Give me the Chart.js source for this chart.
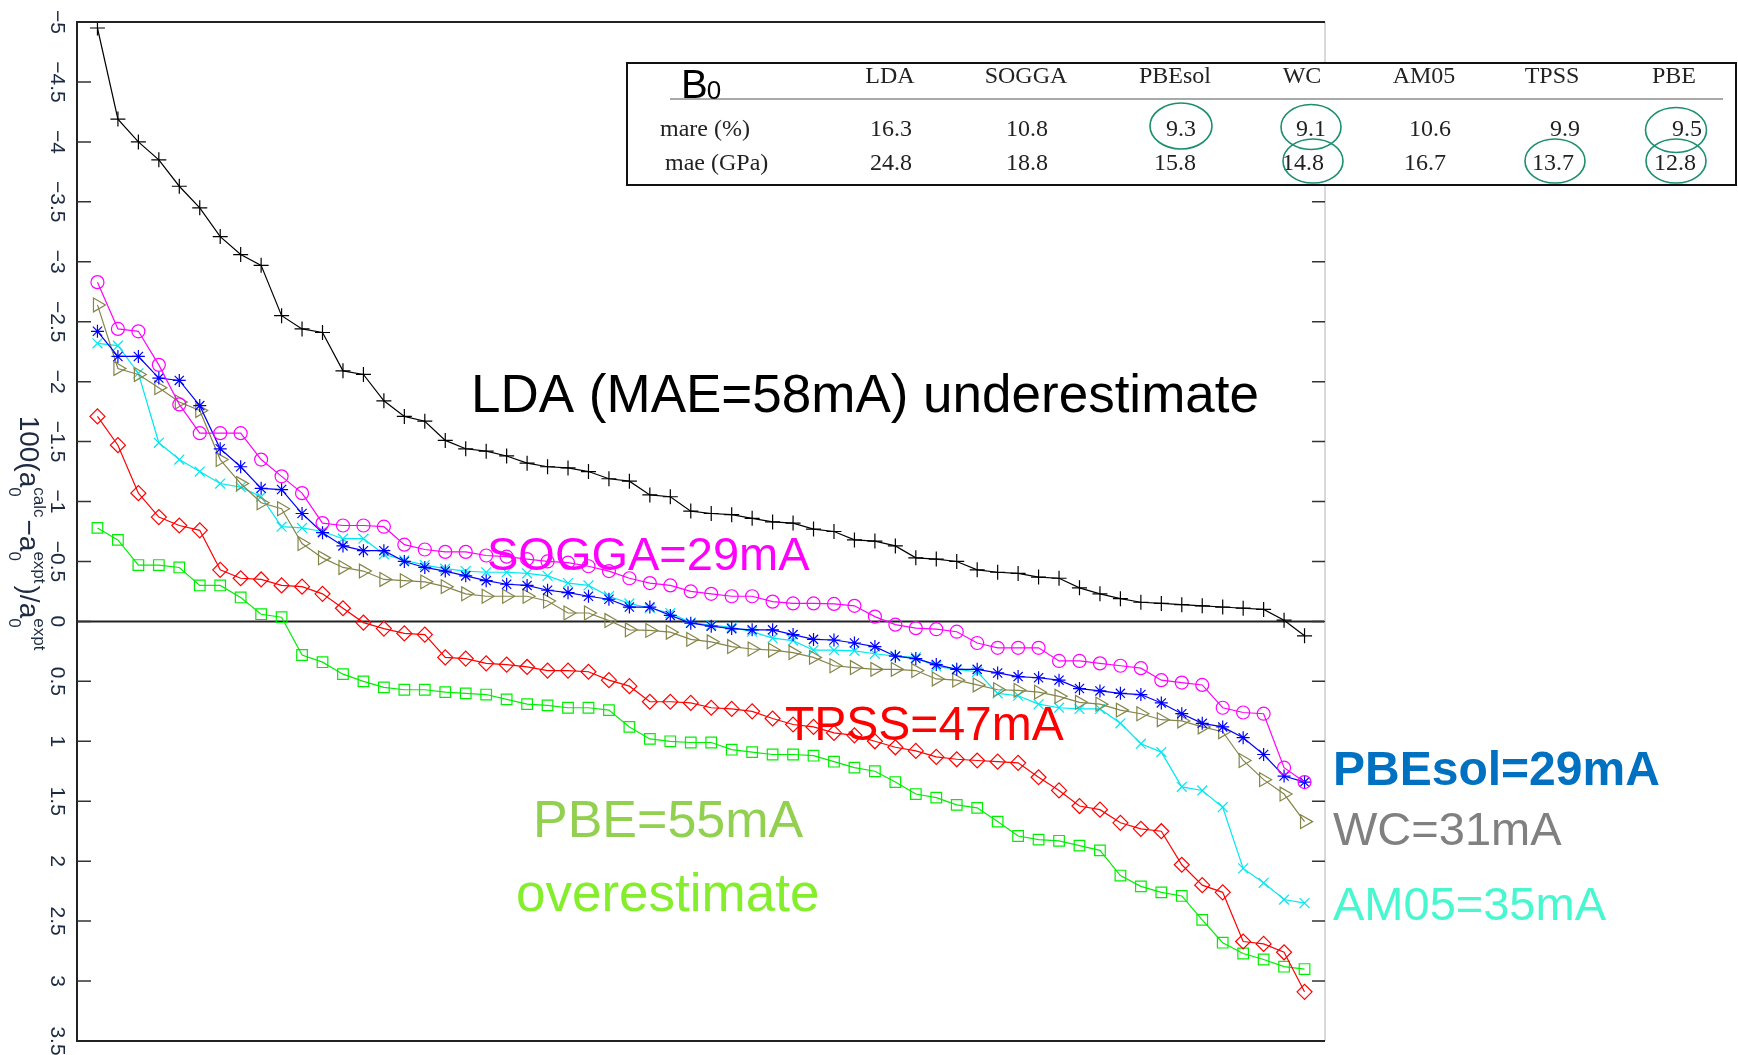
<!DOCTYPE html>
<html>
<head>
<meta charset="utf-8">
<script src="https://cdn.jsdelivr.net/npm/chart.js@4.4.1/dist/chart.umd.min.js"></script>
<style>
  html, body { margin: 0; padding: 0; background: #fff; }
  #wrap { width: 1738px; height: 1055px; position: relative; }
</style>
</head>
<body>
<div id="wrap"><canvas id="chart" width="1738" height="1055"></canvas></div>
<script>
// 60 solids, sorted by LDA error (x is just the solid index)
const solidIndex = Array.from({ length: 60 }, (_, i) => i);

// 100(a0calc - a0expt)/a0expt per functional
const lda = [-4.95, -4.19, -4.00, -3.85, -3.63, -3.45, -3.21, -3.06, -2.97, -2.55,
  -2.44, -2.41, -2.09, -2.06, -1.84, -1.71, -1.67, -1.51, -1.44, -1.42,
  -1.38, -1.32, -1.29, -1.28, -1.25, -1.19, -1.17, -1.055, -1.04, -0.92,
  -0.90, -0.89, -0.86, -0.83, -0.82, -0.77, -0.75, -0.68, -0.67, -0.63,
  -0.53, -0.52, -0.50, -0.43, -0.41, -0.40, -0.37, -0.36, -0.28, -0.23,
  -0.19, -0.16, -0.15, -0.14, -0.13, -0.12, -0.11, -0.10, -0.01, 0.12];
const sogga = [-2.83, -2.44, -2.42, -2.14, -1.81, -1.57, -1.57, -1.57, -1.35, -1.21,
  -1.07, -0.82, -0.80, -0.80, -0.79, -0.64, -0.60, -0.58, -0.58, -0.55,
  -0.54, -0.52, -0.50, -0.49, -0.46, -0.42, -0.36, -0.32, -0.30, -0.25,
  -0.23, -0.21, -0.21, -0.165, -0.15, -0.15, -0.146, -0.13, -0.04, 0.027,
  0.056, 0.065, 0.086, 0.18, 0.22, 0.22, 0.22, 0.33, 0.33, 0.35,
  0.37, 0.39, 0.49, 0.51, 0.53, 0.72, 0.76, 0.77, 1.22, 1.34];
const pbesol = [-2.42, -2.21, -2.21, -2.03, -2.01, -1.80, -1.44, -1.29, -1.11, -1.10,
  -0.90, -0.74, -0.63, -0.59, -0.59, -0.50, -0.45, -0.42, -0.38, -0.34,
  -0.31, -0.30, -0.26, -0.24, -0.21, -0.185, -0.12, -0.12, -0.05, 0.015,
  0.04, 0.06, 0.07, 0.07, 0.11, 0.15, 0.155, 0.18, 0.21, 0.29,
  0.31, 0.36, 0.40, 0.40, 0.43, 0.46, 0.47, 0.49, 0.56, 0.58,
  0.60, 0.61, 0.68, 0.77, 0.85, 0.88, 0.97, 1.11, 1.29, 1.34];
const wc = [-2.64, -2.11, -2.06, -1.95, -1.83, -1.76, -1.35, -1.15, -0.99, -0.94,
  -0.65, -0.53, -0.45, -0.42, -0.35, -0.34, -0.33, -0.29, -0.23, -0.21,
  -0.21, -0.21, -0.17, -0.07, -0.07, -0.007, 0.07, 0.075, 0.09, 0.15,
  0.17, 0.21, 0.23, 0.24, 0.26, 0.30, 0.37, 0.385, 0.40, 0.40,
  0.41, 0.48, 0.49, 0.53, 0.57, 0.575, 0.59, 0.625, 0.675, 0.69,
  0.74, 0.77, 0.82, 0.83, 0.88, 0.92, 1.16, 1.32, 1.44, 1.67];
const am05 = [-2.32, -2.30, -2.07, -1.49, -1.35, -1.25, -1.15, -1.12, -1.04, -0.79,
  -0.78, -0.75, -0.69, -0.69, -0.56, -0.51, -0.47, -0.44, -0.42, -0.41,
  -0.41, -0.40, -0.38, -0.32, -0.30, -0.21, -0.15, -0.11, -0.07, 0.01,
  0.03, 0.05, 0.085, 0.14, 0.16, 0.24, 0.24, 0.245, 0.27, 0.29,
  0.30, 0.375, 0.40, 0.42, 0.60, 0.62, 0.69, 0.72, 0.73, 0.73,
  0.85, 1.02, 1.09, 1.38, 1.41, 1.55, 2.06, 2.18, 2.32, 2.35];
const tpss = [-1.71, -1.47, -1.07, -0.87, -0.80, -0.76, -0.43, -0.36, -0.35, -0.30,
  -0.29, -0.23, -0.11, 0.01, 0.06, 0.10, 0.11, 0.30, 0.31, 0.35,
  0.36, 0.38, 0.41, 0.41, 0.42, 0.49, 0.54, 0.67, 0.67, 0.68,
  0.72, 0.73, 0.75, 0.81, 0.86, 0.88, 0.93, 0.95, 1.00, 1.05,
  1.08, 1.13, 1.15, 1.16, 1.17, 1.18, 1.30, 1.41, 1.54, 1.57,
  1.68, 1.73, 1.75, 2.03, 2.20, 2.26, 2.67, 2.69, 2.76, 3.09];
const pbe = [-0.78, -0.68, -0.47, -0.47, -0.45, -0.30, -0.30, -0.20, -0.06, -0.035,
  0.28, 0.34, 0.44, 0.50, 0.55, 0.57, 0.57, 0.59, 0.60, 0.61,
  0.65, 0.69, 0.70, 0.72, 0.72, 0.74, 0.88, 0.98, 1.00, 1.01,
  1.01, 1.07, 1.09, 1.11, 1.11, 1.12, 1.17, 1.22, 1.25, 1.34,
  1.44, 1.47, 1.53, 1.555, 1.67, 1.79, 1.82, 1.83, 1.87, 1.91,
  2.12, 2.21, 2.26, 2.29, 2.49, 2.68, 2.77, 2.82, 2.88, 2.90];

// y axis ticks
const yTicks = [-5, -4.5, -4, -3.5, -3, -2.5, -2, -1.5, -1, -0.5, 0, 0.5, 1, 1.5, 2, 2.5, 3, 3.5];
const yTickLabels = ['\u22125', '\u22124.5', '\u22124', '\u22123.5', '\u22123', '\u22122.5', '\u22122', '\u22121.5', '\u22121',
  '\u22120.5', '0', '0.5', '1', '1.5', '2', '2.5', '3', '3.5'];

// bulk modulus table
const tableFunctionals = ['LDA', 'SOGGA', 'PBEsol', 'WC', 'AM05', 'TPSS', 'PBE'];
const mareB0 = ['16.3', '10.8', '9.3', '9.1', '10.6', '9.9', '9.5'];
const maeB0 = ['24.8', '18.8', '15.8', '14.8', '16.7', '13.7', '12.8'];

const SANS = '"Liberation Sans", Arial, sans-serif';
const SERIF = '"Liberation Serif", "Times New Roman", serif';

function series(values) {
  return values.map((v, i) => ({ x: solidIndex[i], y: v }));
}

function makeSet(label, values, color, style, radius, rotation) {
  return {
    label: label,
    data: series(values),
    borderColor: color,
    borderWidth: 1.2,
    pointStyle: style,
    pointRadius: radius,
    pointRotation: rotation || 0,
    pointBorderColor: color,
    pointBackgroundColor: 'rgba(0,0,0,0)',
    pointBorderWidth: 1.2,
    tension: 0
  };
}

// draws text made of main / sub / sup pieces along the current baseline
function drawMath(ctx, groups) {
  const main = '28px ' + SANS, small = '17px ' + SANS;
  let total = 0;
  groups.forEach(g => {
    if (g.t) { ctx.font = main; g.w = ctx.measureText(g.t).width; }
    else {
      ctx.font = small;
      g.w = Math.max(ctx.measureText(g.sub).width, ctx.measureText(g.sup).width) + 2;
    }
    total += g.w;
  });
  let x = -total / 2;
  ctx.textAlign = 'left';
  ctx.textBaseline = 'alphabetic';
  groups.forEach(g => {
    if (g.t) { ctx.font = main; ctx.fillText(g.t, x, 0); }
    else {
      ctx.font = small;
      ctx.fillText(g.sub, x, 11);
      ctx.fillText(g.sup, x, -14);
    }
    x += g.w;
  });
}

const framePlugin = {
  id: 'frame',
  beforeDatasetsDraw(chart) {
    const { ctx, chartArea: a, scales: { y } } = chart;
    const y0 = y.getPixelForValue(0);
    ctx.save();
    ctx.strokeStyle = '#222';
    ctx.lineWidth = 2;
    ctx.beginPath();
    ctx.moveTo(a.left, y0);
    ctx.lineTo(a.right, y0);
    ctx.stroke();
    ctx.restore();
  },
  afterDatasetsDraw(chart) {
    const { ctx, chartArea: a, scales: { y } } = chart;
    ctx.save();
    // right border is light grey, others dark
    ctx.lineWidth = 2;
    ctx.strokeStyle = '#d9d9d9';
    ctx.beginPath();
    ctx.moveTo(a.right, a.top);
    ctx.lineTo(a.right, a.bottom);
    ctx.stroke();
    ctx.strokeStyle = '#222';
    ctx.beginPath();
    ctx.moveTo(a.right, a.top);
    ctx.lineTo(a.left, a.top);
    ctx.lineTo(a.left, a.bottom);
    ctx.lineTo(a.right, a.bottom);
    ctx.stroke();

    // inward ticks + rotated labels
    ctx.strokeStyle = '#333';
    ctx.lineWidth = 1.5;
    ctx.fillStyle = '#1c2a44';
    ctx.font = '21px ' + SANS;
    yTicks.forEach((v, i) => {
      const py = y.getPixelForValue(v);
      if (v > -5 && v < 3.5) {
        ctx.beginPath();
        ctx.moveTo(a.left, py); ctx.lineTo(a.left + 14, py);
        ctx.moveTo(a.right, py); ctx.lineTo(a.right - 13, py);
        ctx.stroke();
      }
      ctx.save();
      ctx.translate(57, py);
      ctx.rotate(Math.PI / 2);
      ctx.textAlign = 'center';
      ctx.textBaseline = 'middle';
      ctx.fillText(yTickLabels[i], 0, 0);
      ctx.restore();
    });

    // y axis title, rotated
    ctx.save();
    ctx.translate(20, 534);
    ctx.rotate(Math.PI / 2);
    drawMath(ctx, [
      { t: '100(a' }, { sub: '0', sup: 'calc' },
      { t: '\u2212a' }, { sub: '0', sup: 'expt' },
      { t: ')/a' }, { sub: '0', sup: 'expt' }
    ]);
    ctx.restore();
    ctx.restore();
  },
  afterDraw(chart) {
    const ctx = chart.ctx;
    ctx.save();
    ctx.textAlign = 'left';
    ctx.textBaseline = 'alphabetic';
    const notes = [
      ['LDA (MAE=58mA) underestimate', 471, 393, '53px', '#000000'],
      ['SOGGA=29mA', 487, 553, '47px', '#ff00ff'],
      ['TPSS=47mA', 785, 723, '48px', '#ff0000'],
      ['PBE=55mA', 533, 818, '52px', '#92d050'],
      ['overestimate', 516, 892, '53px', '#84ee2c'],
      ['PBEsol=29mA', 1333, 768, 'bold 48px', '#0070c0'],
      ['WC=31mA', 1333, 828, '47px', '#808080'],
      ['AM05=35mA', 1333, 903, '47px', '#46f7cf']
    ];
    notes.forEach(n => {
      const size = parseFloat(n[3].replace('bold ', ''));
      ctx.font = n[3] + ' ' + SANS;
      ctx.fillStyle = n[4];
      ctx.fillText(n[0], n[1], n[2] + size * 0.358);
    });

    // B0 table box
    ctx.fillStyle = '#ffffff';
    ctx.fillRect(627, 63, 1109, 122);
    ctx.strokeStyle = '#111';
    ctx.lineWidth = 2;
    ctx.strokeRect(627, 63, 1109, 122);
    ctx.lineWidth = 1.2;
    ctx.strokeStyle = '#555';
    ctx.beginPath();
    ctx.moveTo(670, 99);
    ctx.lineTo(1723, 99);
    ctx.stroke();

    ctx.fillStyle = '#000';
    ctx.font = '40px ' + SANS;
    ctx.fillText('B', 681, 98);
    const bw = ctx.measureText('B').width;
    ctx.font = '26px ' + SANS;
    ctx.fillText('0', 681 + bw - 1, 99);

    ctx.fillStyle = '#222';
    ctx.font = '24px ' + SERIF;
    ctx.fillText('mare (%)', 660, 136);
    ctx.fillText('mae (GPa)', 665, 170);
    ctx.textAlign = 'center';
    const headX = [890, 1026, 1175, 1302, 1424, 1552, 1674];
    const row1X = [891, 1027, 1181, 1311, 1430, 1565, 1687];
    const row2X = [891, 1027, 1175, 1303, 1425, 1553, 1675];
    tableFunctionals.forEach((f, i) => {
      ctx.fillText(f, headX[i], 83);
      ctx.fillText(mareB0[i], row1X[i], 136);
      ctx.fillText(maeB0[i], row2X[i], 170);
    });

    // best values circled
    ctx.strokeStyle = '#1b8f6e';
    ctx.lineWidth = 1.6;
    [[1181, 126, 31, 23], [1311, 127, 30, 22.5], [1313, 161, 30, 22],
     [1555, 161, 30, 22], [1676, 130, 30.5, 22.5], [1676, 161, 30, 22]].forEach(e => {
      ctx.beginPath();
      ctx.ellipse(e[0], e[1], e[2], e[3], 0, 0, Math.PI * 2);
      ctx.stroke();
    });
    ctx.restore();
  }
};

new Chart(document.getElementById('chart').getContext('2d'), {
  type: 'line',
  data: {
    datasets: [
      makeSet('SOGGA', sogga, '#ff00ff', 'circle', 6.5),
      makeSet('PBEsol', pbesol, '#0000ff', 'star', 6.5),
      makeSet('WC', wc, '#85854a', 'triangle', 8, 90),
      makeSet('AM05', am05, '#00e8f0', 'crossRot', 7),
      makeSet('TPSS', tpss, '#ff0000', 'rectRot', 7.5),
      makeSet('PBE', pbe, '#00ee00', 'rect', 7.5),
      makeSet('LDA', lda, '#000000', 'cross', 7.5)
    ]
  },
  options: {
    responsive: false,
    animation: false,
    devicePixelRatio: 1,
    events: [],
    layout: { padding: { left: 77, top: 22, right: 413, bottom: 14 } },
    plugins: {
      legend: { display: false },
      tooltip: { enabled: false }
    },
    scales: {
      x: { type: 'linear', min: -1, max: 60, display: false },
      y: { type: 'linear', min: -5, max: 3.5, reverse: true, display: false }
    }
  },
  plugins: [framePlugin]
});
</script>
</body>
</html>
